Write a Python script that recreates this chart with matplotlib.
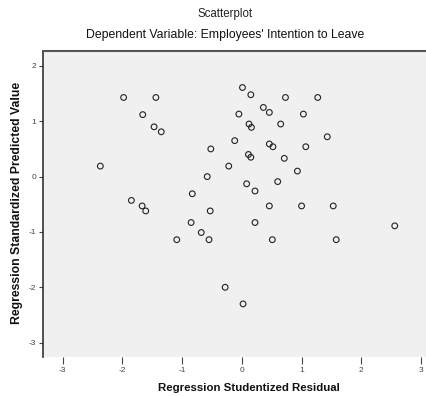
import numpy as np
import matplotlib
matplotlib.use("Agg")
import matplotlib.pyplot as plt

plt.rcParams['font.family'] = ['Liberation Sans', 'DejaVu Sans']

# studentized residuals (x) and standardized predicted values (y)
residual = [-1.98, -1.44, -1.66, -1.47, -1.35, -2.37, -1.85, -1.67, -1.61, -0.83,
            -0.58, -0.52, -0.53, -0.85, -0.68, -0.55, -1.09, -0.28, 0.02, 0.01,
            0.15, 0.73, 1.27, 0.36, 0.46, -0.05, 1.03, 0.12, 0.16, 0.65,
            1.43, -0.12, 0.46, 0.52, 1.07, 0.11, 0.15, 0.71, -0.22, 0.93,
            0.08, 0.22, 0.60, 0.46, 1.00, 1.53, 0.22, 2.56, 0.51, 1.58]
predicted = [1.43, 1.43, 1.12, 0.90, 0.81, 0.19, -0.43, -0.53, -0.62, -0.31,
             0.00, 0.50, -0.62, -0.83, -1.01, -1.14, -1.14, -2.00, -2.30, 1.61,
             1.48, 1.43, 1.43, 1.25, 1.16, 1.13, 1.13, 0.95, 0.89, 0.95,
             0.72, 0.65, 0.59, 0.54, 0.54, 0.40, 0.35, 0.33, 0.19, 0.10,
             -0.13, -0.26, -0.09, -0.53, -0.53, -0.53, -0.83, -0.89, -1.14, -1.14]

x_ticks = [-3, -2, -1, 0, 1, 2, 3]
x_labels = ['-3', '-2', '-1', '0', '1', '2', '3']
y_ticks = [-3, -2, -1, 0, 1, 2]
y_labels = ['-3', '-2', '-1', '0', '1', '2']

fig = plt.figure(figsize=(4.27, 3.97), dpi=100)
ax = fig.add_axes([43 / 427, 40 / 397, 384 / 427, 306 / 397])
ax.set_facecolor('#f0f0f0')

ax.scatter(residual, predicted, s=17, facecolors='none', edgecolors='#222222',
           linewidths=0.8)

ax.set_xticks(x_ticks)
ax.set_xticklabels(x_labels)
ax.set_yticks(y_ticks)
ax.set_yticklabels(y_labels)
ax.set_xlim(-3.33, 3.10)
ax.set_ylim(-3.26, 2.27)
ax.tick_params(axis='both', labelsize=6, colors='#444444', length=3, width=0.8, pad=2)
ax.tick_params(axis='x', length=5, pad=2)

for side in ['right', 'bottom']:
    ax.spines[side].set_visible(False)
ax.spines['left'].set_color('#333333')
ax.spines['left'].set_linewidth(1.2)
ax.spines['top'].set_color('#555555')
ax.spines['top'].set_linewidth(1.5)

fig.text(225 / 427, 1 - 14 / 397, 'Scatterplot', ha='center', va='center',
         fontsize=8.3, color='#222222')
fig.text(225 / 427, 1 - 35 / 397, "Dependent Variable: Employees' Intention to Leave",
         ha='center', va='center', fontsize=8.8, color='#111111')
fig.text(249 / 427, 1 - 388 / 397, 'Regression Studentized Residual', ha='center',
         va='center', fontsize=8.2, fontweight='bold', color='#111111')
fig.text(17 / 427, 1 - 203 / 397, 'Regression Standardized Predicted Value',
         ha='center', va='center', rotation=90, fontsize=8.8, fontweight='bold',
         color='#111111')

fig.savefig('out.png', dpi=100)
